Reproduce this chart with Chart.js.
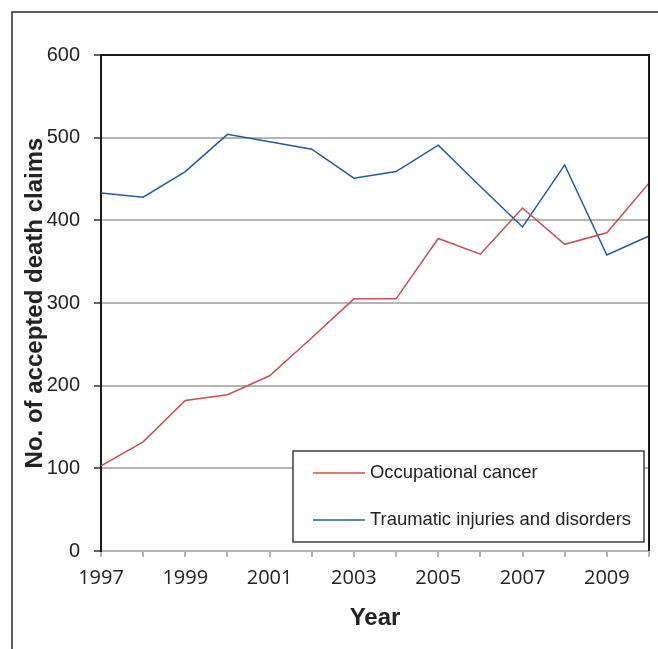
<!DOCTYPE html>
<html>
<head>
<meta charset="utf-8">
<script src="https://cdn.jsdelivr.net/npm/chart.js@4"></script>
<style>
  html, body { margin: 0; padding: 0; background: #fff; }
  #wrap { width: 658px; height: 649px; }
</style>
</head>
<body>
<div id="wrap"><canvas id="deaths"></canvas></div>
<script>
// data
const years = ['1997', '1998', '1999', '2000', '2001', '2002', '2003',
               '2004', '2005', '2006', '2007', '2008', '2009', '2010'];
const cancerClaims    = [103, 132, 182, 189, 212, 258, 305, 305, 378, 359, 415, 371, 385, 445];
const traumaticClaims = [433, 428, 459, 504, 495, 486, 451, 459, 491, 441, 392, 467, 358, 381];
const yTicks = [0, 100, 200, 300, 400, 500, 600];

const seriesNames  = ['Occupational cancer', 'Traumatic injuries and disorders'];
const seriesColors = ['#c9504f', '#1d5e9f'];

//-----------------------------------------------------------------------------
// outer frame + top/right border of the plot + the boxed legend
//-----------------------------------------------------------------------------
const framePlugin = {
    id: 'frame',
    afterDraw(chart) {
        const ctx = chart.ctx;
        const area = chart.chartArea;
        ctx.save();

        // outer figure frame (left and top edges only show)
        ctx.strokeStyle = '#2a2a2a';
        ctx.lineWidth = 1.5;
        ctx.beginPath();
        ctx.moveTo(12, 649);
        ctx.lineTo(12, 12);
        ctx.lineTo(658, 12);
        ctx.stroke();

        // top and right of plot box
        ctx.strokeStyle = '#1a1a1a';
        ctx.lineWidth = 2;
        ctx.beginPath();
        ctx.moveTo(area.left, area.top);
        ctx.lineTo(area.right, area.top);
        ctx.lineTo(area.right, area.bottom);
        ctx.stroke();

        // legend box inside the plot
        const box = { x: 293, y: 451, w: 351, h: 91 };
        ctx.fillStyle = '#fff';
        ctx.fillRect(box.x, box.y, box.w, box.h);
        ctx.strokeStyle = '#222';
        ctx.lineWidth = 1.3;
        ctx.strokeRect(box.x, box.y, box.w, box.h);

        ctx.font = '18.4px "Liberation Sans", Arial, sans-serif';
        ctx.textBaseline = 'middle';
        chart.data.datasets.forEach((ds, i) => {
            const yy = 473 + i * 47;
            ctx.strokeStyle = ds.borderColor;
            ctx.lineWidth = 1.5;
            ctx.beginPath();
            ctx.moveTo(313, yy);
            ctx.lineTo(365, yy);
            ctx.stroke();
            ctx.fillStyle = '#222';
            ctx.fillText(ds.label, 370, yy);
        });
        ctx.restore();
    }
};

const ctx = document.getElementById('deaths').getContext('2d');
new Chart(ctx, {
    type: 'line',
    data: {
        labels: years,
        datasets: [
            {
                label: seriesNames[0],
                data: cancerClaims,
                borderColor: seriesColors[0],
                borderWidth: 1.5,
                pointRadius: 0,
                tension: 0,
                fill: false
            },
            {
                label: seriesNames[1],
                data: traumaticClaims,
                borderColor: seriesColors[1],
                borderWidth: 1.5,
                pointRadius: 0,
                tension: 0,
                fill: false
            }
        ]
    },
    options: {
        responsive: true,
        maintainAspectRatio: false,
        animation: false,
        layout: {
            padding: { left: 0, top: 55, right: 8, bottom: 0 }
        },
        plugins: {
            legend: { display: false },
            tooltip: { enabled: false }
        },
        scales: {
            x: {
                type: 'category',
                offset: false,
                afterFit: scale => { scale.height = 98; },
                border: { display: true, color: '#b3b3b3', width: 2 },
                grid: {
                    drawOnChartArea: false,
                    drawTicks: true,
                    tickLength: 6,
                    color: '#b3b3b3',
                    lineWidth: 2
                },
                ticks: {
                    autoSkip: false,
                    maxRotation: 0,
                    padding: 9,
                    color: '#222',
                    font: { family: '"Open Sans", sans-serif', size: 20 },
                    // only every second year is labelled
                    callback: (value, index) => (index % 2 === 0 ? years[index] : '')
                },
                title: {
                    display: true,
                    text: 'Year',
                    color: '#222',
                    padding: { top: 0, bottom: 16 },
                    font: { family: '"Liberation Sans", Arial, sans-serif', size: 24, weight: 'bold' }
                }
            },
            y: {
                min: 0,
                max: 600,
                afterFit: scale => { scale.width = 101; },
                afterBuildTicks: scale => { scale.ticks = yTicks.map(v => ({ value: v })); },
                border: { display: true, color: '#1a1a1a', width: 2 },
                grid: {
                    color: '#b5b5b5',
                    lineWidth: 2,
                    tickLength: 7,
                    tickColor: '#333',
                    tickWidth: 1.5
                },
                ticks: {
                    padding: 14,
                    color: '#222',
                    font: { family: '"Liberation Sans", Arial, sans-serif', size: 20 }
                },
                title: {
                    display: true,
                    text: 'No. of accepted death claims',
                    color: '#222',
                    padding: { top: 21, bottom: 0 },
                    font: { family: '"Liberation Sans", Arial, sans-serif', size: 24, weight: 'bold' }
                }
            }
        }
    },
    plugins: [framePlugin]
});
</script>
</body>
</html>
